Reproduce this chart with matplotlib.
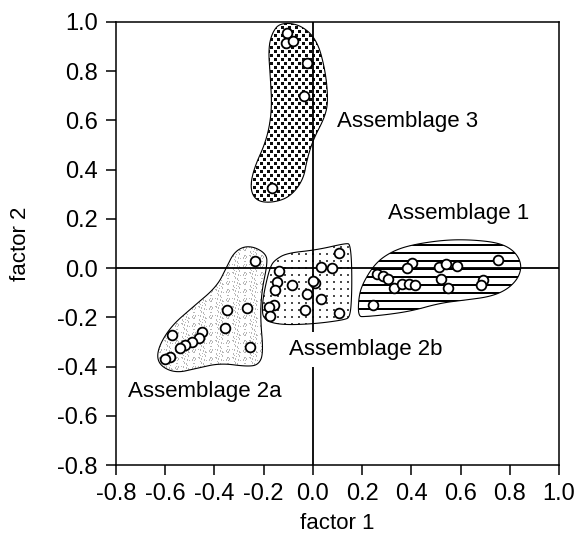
import numpy as np
import matplotlib
matplotlib.use('Agg')
import matplotlib.pyplot as plt
from matplotlib.patches import Polygon

plt.rcParams['font.family'] = ['Liberation Sans', 'DejaVu Sans']

# ---------------- data ----------------
# Assemblage 1 scores
a1_x = [0.402, 0.381, 0.261, 0.285, 0.307, 0.331, 0.361, 0.390, 0.416,
        0.512, 0.541, 0.586, 0.519, 0.549, 0.692, 0.684, 0.752, 0.246]
a1_y = [0.022, 0.001, -0.022, -0.032, -0.044, -0.080, -0.063, -0.063, -0.068,
        0.003, 0.015, 0.008, -0.043, -0.081, -0.048, -0.070, 0.034, -0.149]
# Assemblage 2a scores
a2a_x = [-0.234, -0.349, -0.268, -0.356, -0.451, -0.464, -0.491, -0.518,
         -0.572, -0.539, -0.255, -0.579, -0.600]
a2a_y = [0.027, -0.170, -0.163, -0.244, -0.258, -0.285, -0.299, -0.312,
         -0.271, -0.325, -0.319, -0.360, -0.370]
# Assemblage 2b scores
a2b_x = [0.108, 0.032, 0.077, -0.136, -0.146, -0.083, 0.009, -0.153,
         -0.024, 0.032, -0.157, -0.180, -0.031, -0.173, 0.108, 0.001]
a2b_y = [0.061, 0.004, 0.000, -0.010, -0.055, -0.068, -0.061, -0.088,
         -0.106, -0.126, -0.149, -0.159, -0.170, -0.194, -0.183, -0.052]
# Assemblage 3 scores
a3_x = [-0.106, -0.110, -0.079, -0.024, -0.038, -0.166]
a3_y = [0.956, 0.915, 0.922, 0.834, 0.701, 0.325]

# outlines (hand-drawn envelopes)
o1_x = [0.185, 0.185, 0.199, 0.253, 0.321, 0.402, 0.537, 0.652, 0.760, 0.821,
        0.849, 0.835, 0.788, 0.720, 0.625, 0.517, 0.402, 0.294, 0.212]
o1_y = [-0.197, -0.129, -0.068, 0.020, 0.068, 0.095, 0.115, 0.115, 0.102, 0.068,
        0.014, -0.041, -0.088, -0.116, -0.129, -0.142, -0.174, -0.190, -0.197]
o2a_x = [-0.234, -0.187, -0.187, -0.207, -0.214, -0.201, -0.221, -0.268, -0.376,
         -0.471, -0.559, -0.627, -0.633, -0.579, -0.485, -0.390, -0.349, -0.322, -0.282]
o2a_y = [0.085, 0.054, 0.007, -0.088, -0.197, -0.346, -0.393, -0.400, -0.386,
         -0.407, -0.427, -0.393, -0.332, -0.238, -0.156, -0.075, 0.007, 0.061, 0.088]
o2b_x = [-0.153, -0.106, 0.016, 0.138, 0.151, 0.158, 0.158, 0.151, 0.131,
         0.002, -0.133, -0.201, -0.207, -0.194, -0.173]
o2b_y = [0.034, 0.061, 0.074, 0.102, 0.095, 0.020, -0.116, -0.197, -0.210,
         -0.227, -0.231, -0.210, -0.156, -0.075, 0.007]
o3_x = [-0.133, -0.052, 0.016, 0.050, 0.062, 0.050, 0.001, -0.024, -0.039, -0.092,
        -0.161, -0.227, -0.255, -0.242, -0.187, -0.166, -0.173, -0.181, -0.166]
o3_y = [0.997, 0.990, 0.929, 0.807, 0.685, 0.616, 0.522, 0.441, 0.359, 0.290,
        0.266, 0.271, 0.318, 0.400, 0.522, 0.644, 0.779, 0.889, 0.956]

labels = ['Assemblage 1', 'Assemblage 2a', 'Assemblage 2b', 'Assemblage 3']
label_x = [0.306, -0.753, -0.096, 0.099]
label_y = [0.221, -0.503, -0.332, 0.595]

ticks = [-0.8, -0.6, -0.4, -0.2, 0.0, 0.2, 0.4, 0.6, 0.8, 1.0]
tick_labels = ['-0.8', '-0.6', '-0.4', '-0.2', '0.0', '0.2', '0.4', '0.6', '0.8', '1.0']


def chaikin(xs, ys, n=4):
    p = np.column_stack([xs, ys])
    for _ in range(n):
        q = np.roll(p, -1, axis=0)
        p = np.column_stack([0.75 * p + 0.25 * q, 0.25 * p + 0.75 * q]).reshape(-1, 2)
    return p


# ---------------- figure ----------------
W, H = 588, 539
fig = plt.figure(figsize=(W / 100, H / 100), dpi=100)
N = 443
ax = fig.add_axes([116 / W, (H - 465) / H, N / W, N / H])
ax.set_xlim(-0.8, 1.0)
ax.set_ylim(-0.8, 1.0)

# textures in pixel space
ii, jj = np.mgrid[0:N, 0:N]
white = np.ones((N, N, 3))

def tex(mask, color):
    img = white.copy()
    img[mask] = color
    return img

zero_row = int(round(N * 1.0 / 1.8))
lines_img = tex(((ii - zero_row) % 8) < 2, (0, 0, 0))
dots_img = tex(((ii % 7) < 2) & ((jj % 7) < 2), (0.3, 0.3, 0.3))
chk = (((ii % 8) < 3) & ((jj % 7) < 3)) | ((((ii - 4) % 8) < 3) & (((jj - 4) % 7) < 3))
checker_img = tex(chk, (0.05, 0.05, 0.05))
speck = ((ii * ii * 13 + jj * jj * 7 + ii * jj * 3 + ii * 5) % 17) < 3
speck_img = tex(speck, (0.72, 0.72, 0.72))

groups = [(o1_x, o1_y, lines_img), (o2a_x, o2a_y, speck_img),
          (o2b_x, o2b_y, dots_img), (o3_x, o3_y, checker_img)]
for ox, oy, img in groups:
    pts = chaikin(ox, oy)
    poly = Polygon(pts, closed=True, facecolor='none', edgecolor='black', lw=0.8, zorder=3)
    ax.add_patch(poly)
    im = ax.imshow(img, extent=(-0.8, 1.0, -0.8, 1.0), interpolation='none',
                   aspect='auto', zorder=1)
    im.set_clip_path(poly)

ax.axhline(0, color='black', lw=1.3, zorder=2)
ax.axvline(0, color='black', lw=1.3, zorder=2)

for xs, ys in [(a1_x, a1_y), (a2a_x, a2a_y), (a2b_x, a2b_y), (a3_x, a3_y)]:
    ax.plot(xs, ys, linestyle='none', marker='o', markersize=7,
            markerfacecolor='white', markeredgecolor='black', markeredgewidth=1.3, zorder=4)

for t, lx, ly in zip(labels, label_x, label_y):
    kw = {}
    if t == 'Assemblage 2b':
        kw['bbox'] = dict(facecolor='white', edgecolor='none', pad=5)
    ax.text(lx, ly, t, fontsize=16, ha='left', va='center', zorder=5, **kw)

ax.set_xticks(ticks)
ax.set_xticklabels(tick_labels)
ax.set_yticks(ticks)
ax.set_yticklabels(tick_labels)
ax.tick_params(direction='out', length=7, width=1.1, labelsize=17, pad=6)
for s in ax.spines.values():
    s.set_linewidth(1.1)
ax.set_xlabel('factor 1', fontsize=16, labelpad=6)
ax.set_ylabel('factor 2', fontsize=16, labelpad=19)

fig.savefig('out.png', dpi=100)
